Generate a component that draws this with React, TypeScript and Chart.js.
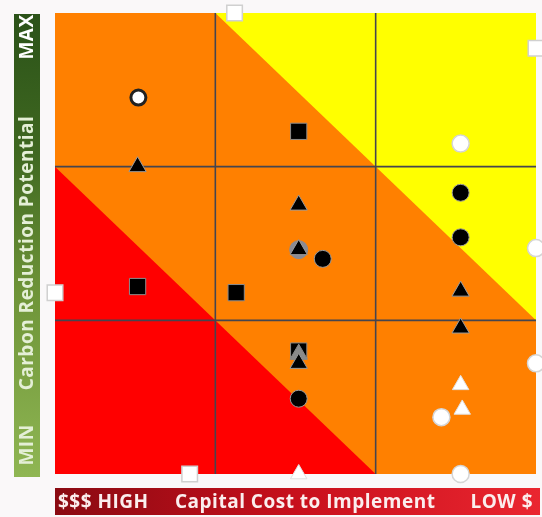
import React, { useEffect, useRef } from "react";
import { Chart, registerables } from "chart.js";

Chart.register(...registerables);

// Axis labels
const yAxisLabels = ["MIN", "Carbon Reduction Potential", "MAX"];
const xAxisLabels = ["$$$ HIGH", "Capital Cost to Implement", "LOW $"];

// Grid divisions (3 x 3 matrix)
const gridLines = [1, 2];
const redBandLimit = 2; // x + y < 2 -> red
const yellowBandLimit = 4; // x + y > 4 -> yellow

// Series (x = cost position, y = carbon reduction)
const ringCircleX = [0.52];
const ringCircleY = [2.45];

const blackSquareX = [1.52, 0.515, 1.13, 1.52];
const blackSquareY = [2.23, 1.22, 1.18, 0.8];

const grayCircleX = [1.52];
const grayCircleY = [1.46];

const grayTriangleX = [1.52];
const grayTriangleY = [0.78];

const blackTriangleX = [0.515, 1.52, 1.52, 2.53, 2.53, 1.52];
const blackTriangleY = [2.0, 1.75, 1.46, 1.19, 0.95, 0.72];

const blackCircleX = [2.53, 2.53, 1.67, 1.52];
const blackCircleY = [1.83, 1.54, 1.4, 0.49];

const whiteCircleX = [2.53, 2.41, 3.0, 3.0, 2.53];
const whiteCircleY = [2.15, 0.37, 1.47, 0.72, 0.0];

const whiteTriangleX = [2.53, 2.54, 1.52];
const whiteTriangleY = [0.58, 0.42, 0.0];

const whiteSquareX = [1.12, 3.0, 0.0, 0.84];
const whiteSquareY = [3.0, 2.77, 1.18, 0.0];

const pts = (xs: number[], ys: number[]) => xs.map((x, i) => ({ x, y: ys[i] }));

const FONT = "700 19px 'Open Sans'";

const backgroundPlugin = {
  id: "bands",
  beforeDraw(chart: any) {
    const { ctx, chartArea: a, scales } = chart;
    const xs = scales.x;
    const ys = scales.y;
    const px = (v: number) => xs.getPixelForValue(v);
    const py = (v: number) => ys.getPixelForValue(v);
    ctx.save();
    ctx.fillStyle = "#faf8f9";
    ctx.fillRect(0, 0, chart.width, chart.height);
    // orange base
    ctx.fillStyle = "#ff8000";
    ctx.fillRect(a.left, a.top, a.right - a.left, a.bottom - a.top);
    // red triangle: x + y < 2
    ctx.fillStyle = "#ff0000";
    ctx.beginPath();
    ctx.moveTo(px(0), py(0));
    ctx.lineTo(px(0), py(redBandLimit));
    ctx.lineTo(px(redBandLimit), py(0));
    ctx.closePath();
    ctx.fill();
    // yellow triangle: x + y > 4
    ctx.fillStyle = "#ffff00";
    ctx.beginPath();
    ctx.moveTo(px(3), py(3));
    ctx.lineTo(px(yellowBandLimit - 3), py(3));
    ctx.lineTo(px(3), py(yellowBandLimit - 3));
    ctx.closePath();
    ctx.fill();
    // grid
    ctx.strokeStyle = "#45454f";
    ctx.lineWidth = 1.6;
    gridLines.forEach((g) => {
      ctx.beginPath();
      ctx.moveTo(px(g), a.top);
      ctx.lineTo(px(g), a.bottom);
      ctx.stroke();
      ctx.beginPath();
      ctx.moveTo(a.left, py(g));
      ctx.lineTo(a.right, py(g));
      ctx.stroke();
    });

    // left axis bar (green gradient)
    const lx0 = a.left - 41;
    const lx1 = a.left - 15;
    const ly0 = a.top + 1;
    const ly1 = a.bottom + 3;
    const gg = ctx.createLinearGradient(0, ly0, 0, ly1);
    gg.addColorStop(0, "#2b5219");
    gg.addColorStop(0.3, "#3f6820");
    gg.addColorStop(0.6, "#6e9438");
    gg.addColorStop(1, "#8fb653");
    ctx.fillStyle = gg;
    ctx.fillRect(lx0, ly0, lx1 - lx0, ly1 - ly0);
    ctx.save();
    ctx.translate((lx0 + lx1) / 2, 0);
    ctx.rotate(-Math.PI / 2);
    ctx.font = FONT;
    (ctx as any).letterSpacing = "0.5px";
    ctx.textBaseline = "middle";
    ctx.textAlign = "center";
    ctx.fillStyle = "#e4efd6";
    ctx.fillText(yAxisLabels[0], -(a.bottom - 29), 1);
    ctx.fillText(yAxisLabels[1], -253, 1);
    ctx.fillStyle = "#ffffff";
    ctx.fillText(yAxisLabels[2], -37, 1);
    ctx.restore();

    // bottom axis bar (red gradient)
    const bx0 = a.left;
    const bx1 = a.right + 4;
    const by0 = a.bottom + 14;
    const by1 = a.bottom + 41;
    const rg = ctx.createLinearGradient(bx0, 0, bx1, 0);
    rg.addColorStop(0, "#8a0a12");
    rg.addColorStop(0.5, "#c8101c");
    rg.addColorStop(1, "#ea2630");
    ctx.fillStyle = rg;
    ctx.fillRect(bx0, by0, bx1 - bx0, by1 - by0);
    ctx.font = FONT;
    (ctx as any).letterSpacing = "0.5px";
    ctx.textBaseline = "middle";
    ctx.fillStyle = "#fbeeee";
    ctx.textAlign = "left";
    ctx.fillText(xAxisLabels[0], bx0 + 3, (by0 + by1) / 2 + 1);
    ctx.fillText(xAxisLabels[1], bx0 + 120, (by0 + by1) / 2 + 1);
    ctx.textAlign = "right";
    ctx.fillText(xAxisLabels[2], bx1 - 7, (by0 + by1) / 2 + 1);
    ctx.restore();
  },
};

export default function App() {
  const ref = useRef<HTMLCanvasElement | null>(null);
  useEffect(() => {
    document.body.style.margin = "0";
    if (!ref.current) return;
    const ds = (
      label: string,
      xs: number[],
      ys: number[],
      style: string,
      r: number,
      fill: string,
      border: string,
      bw: number
    ) => ({
      label,
      data: pts(xs, ys),
      pointStyle: style,
      pointRadius: r,
      pointBackgroundColor: fill,
      pointBorderColor: border,
      pointBorderWidth: bw,
      clip: false as any,
    });
    // First dataset is drawn on top in Chart.js
    const chart = new Chart(ref.current, {
      type: "scatter",
      data: {
        datasets: [
          ds("blackCircle", blackCircleX, blackCircleY, "circle", 8.5, "#000000", "#9a9a9a", 1),
          ds("blackTriangle", blackTriangleX, blackTriangleY, "triangle", 10, "#000000", "#9a9a9a", 1),
          ds("grayTriangle", grayTriangleX, grayTriangleY, "triangle", 10, "#8a8a8a", "#8a8a8a", 1),
          ds("blackSquare", blackSquareX, blackSquareY, "rect", 11.5, "#000000", "#8c8c8c", 1),
          ds("grayCircle", grayCircleX, grayCircleY, "circle", 9, "#8a8a92", "#8a8a92", 1),
          ds("ringCircle", ringCircleX, ringCircleY, "circle", 7.5, "#ffffff", "#222222", 3),
          ds("whiteTriangle", whiteTriangleX, whiteTriangleY, "triangle", 9.5, "#ffffff", "#e0e0e0", 1),
          ds("whiteCircle", whiteCircleX, whiteCircleY, "circle", 8.5, "#ffffff", "#d5d5d5", 1.5),
          ds("whiteSquare", whiteSquareX, whiteSquareY, "rect", 11, "#ffffff", "#d0d0d0", 1.5),
        ],
      },
      options: {
        animation: false,
        responsive: true,
        maintainAspectRatio: false,
        layout: {
          autoPadding: false,
          padding: { left: 55, top: 13, right: 6, bottom: 43 },
        },
        plugins: {
          legend: { display: false },
          tooltip: { enabled: false },
        },
        scales: {
          x: { type: "linear", min: 0, max: 3, display: false },
          y: { type: "linear", min: 0, max: 3, display: false },
        },
      },
      plugins: [backgroundPlugin],
    });
    return () => chart.destroy();
  }, []);
  return (
    <div style={{ width: 542, height: 517, position: "relative", background: "#faf8f9" }}>
      <canvas ref={ref} />
    </div>
  );
}
